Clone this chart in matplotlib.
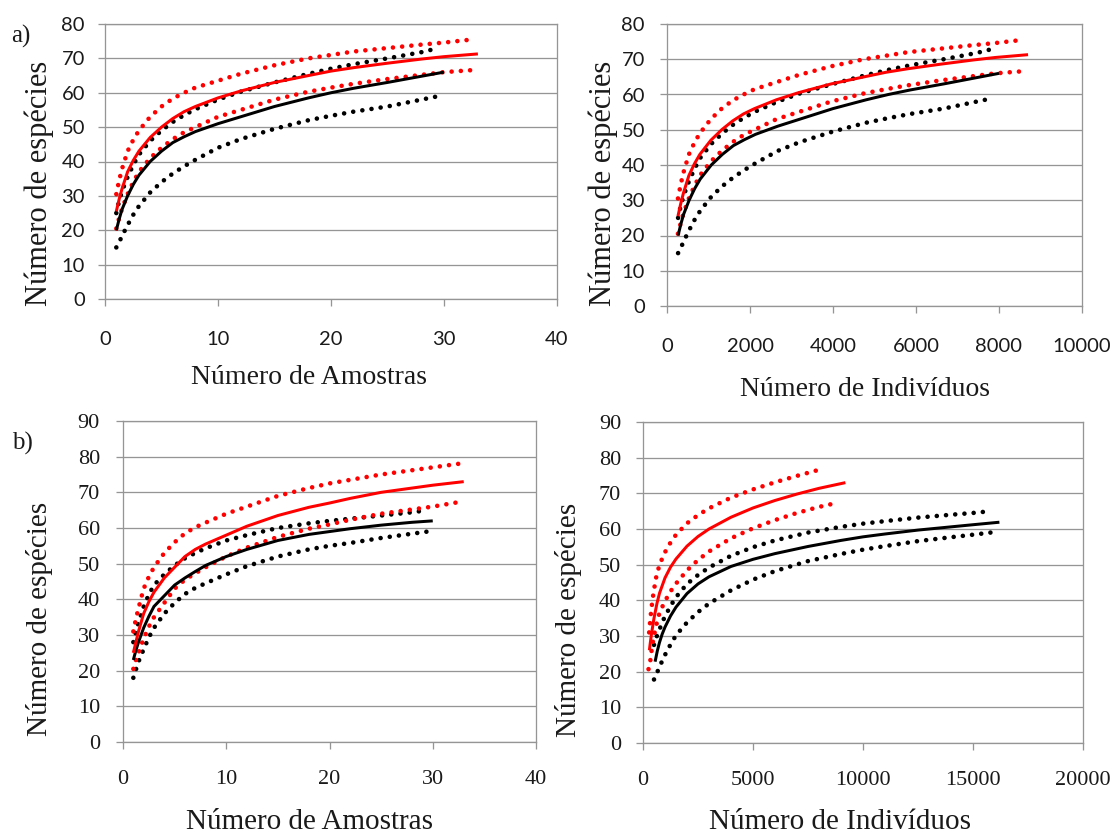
import matplotlib
matplotlib.use("Agg")
import matplotlib.pyplot as plt

W, H = 1117, 834
DPI = 100

# ---------------- data: a) samples ----------------
a_samp_black_x = [1, 1.25, 1.5, 2, 2.5, 3, 4, 5, 6, 7, 8, 10, 12, 15, 18, 20, 22, 25, 28, 30]
a_samp_black = [20, 23.2, 26, 30, 33.3, 36, 40, 43, 45.5, 47.2, 48.7, 51, 53, 56, 58.5, 60, 61.3, 63, 64.8, 66]
a_samp_black_up_x = [1, 1.25, 1.5, 2, 2.5, 3, 4, 5, 6, 7, 8, 10, 12, 15, 18, 20, 22, 25, 28, 29.5]
a_samp_black_up = [25, 28.5, 31.3, 35.5, 39, 42, 46, 49, 51.5, 53.5, 55.2, 58, 60.3, 63, 65.5, 67, 68.3, 70, 71.8, 73]
a_samp_black_lo_x = [1, 1.25, 1.5, 2, 2.5, 3, 4, 5, 6, 7, 8, 10, 12, 15, 18, 20, 22, 25, 28, 29.5]
a_samp_black_lo = [15, 16.5, 18.3, 21.5, 24.5, 27, 31, 34, 36.5, 38.6, 40.5, 44, 46.5, 49.5, 52, 53.3, 54.5, 56, 58, 59]
a_samp_red_x = [1, 1.25, 1.5, 2, 2.5, 3, 4, 5, 6, 7, 8, 10, 12, 15, 18, 20, 22, 25, 28, 30, 33]
a_samp_red = [25.5, 29, 32, 37, 40.3, 43, 47, 50, 52.5, 54.5, 56, 58.5, 60.5, 63, 65, 66.3, 67.3, 68.6, 69.8, 70.5, 71.3]
a_samp_red_up_x = [1, 1.25, 1.5, 2, 2.5, 3, 4, 5, 6, 7, 8, 10, 12, 15, 18, 20, 22, 25, 28, 30, 32.5]
a_samp_red_up = [30.5, 34.5, 37.8, 43, 46.3, 49, 53, 56, 58.3, 60, 61.5, 63.5, 65.5, 68, 70, 71, 72, 73, 74, 74.6, 75.5]
a_samp_red_lo_x = [1, 1.25, 1.5, 2, 2.5, 3, 4, 5, 6, 7, 8, 10, 12, 15, 18, 20, 22, 25, 28, 30, 33]
a_samp_red_lo = [20.5, 23.5, 26.2, 30.5, 34, 37, 41, 44, 46.5, 48.5, 50, 53, 55, 58, 60.3, 61.5, 62.6, 64, 65.2, 66, 66.7]

# ---------------- data: a) individuals ----------------
a_ind_black_x = [267, 333, 400, 533, 667, 800, 1067, 1333, 1600, 1867, 2133, 2667, 3200, 4000, 4800,
                 5333, 5867, 6667, 7467, 8000]
a_ind_black = [20, 23.2, 26, 30, 33.3, 36, 40, 43, 45.5, 47.2, 48.7, 51, 53, 56, 58.5, 60, 61.3, 63, 64.8, 66]
a_ind_black_up_x = [267, 333, 400, 533, 667, 800, 1067, 1333, 1600, 1867, 2133, 2667, 3200, 4000, 4800,
                    5333, 5867, 6667, 7467, 7870]
a_ind_black_up = [25, 28.5, 31.3, 35.5, 39, 42, 46, 49, 51.5, 53.5, 55.2, 58, 60.3, 63, 65.5, 67, 68.3, 70, 71.8, 73]
a_ind_black_lo_x = [267, 333, 400, 533, 667, 800, 1067, 1333, 1600, 1867, 2133, 2667, 3200, 4000, 4800,
                    5333, 5867, 6667, 7467, 7870]
a_ind_black_lo = [15, 16.5, 18.3, 21.5, 24.5, 27, 31, 34, 36.5, 38.6, 40.5, 44, 46.5, 49.5, 52, 53.3, 54.5, 56, 58, 59]
a_ind_red_x = [264, 330, 395, 527, 659, 791, 1055, 1318, 1582, 1845, 2109, 2636, 3164, 3955, 4745,
               5273, 5800, 6591, 7382, 7909, 8700]
a_ind_red = [25.5, 29, 32, 37, 40.3, 43, 47, 50, 52.5, 54.5, 56, 58.5, 60.5, 63, 65, 66.3, 67.3, 68.6, 69.8, 70.5, 71.3]
a_ind_red_up_x = [264, 330, 395, 527, 659, 791, 1055, 1318, 1582, 1845, 2109, 2636, 3164, 3955, 4745,
                  5273, 5800, 6591, 7382, 7909, 8570]
a_ind_red_up = [30.5, 34.5, 37.8, 43, 46.3, 49, 53, 56, 58.3, 60, 61.5, 63.5, 65.5, 68, 70, 71, 72, 73, 74, 74.6, 75.5]
a_ind_red_lo_x = [264, 330, 395, 527, 659, 791, 1055, 1318, 1582, 1845, 2109, 2636, 3164, 3955, 4745,
                  5273, 5800, 6591, 7382, 7909, 8700]
a_ind_red_lo = [20.5, 23.5, 26.2, 30.5, 34, 37, 41, 44, 46.5, 48.5, 50, 53, 55, 58, 60.3, 61.5, 62.6, 64, 65.2, 66, 66.7]

# ---------------- data: b) samples ----------------
b_samp_black_x = [1, 1.25, 1.5, 2, 2.5, 3, 4, 5, 6, 7, 8, 10, 12, 15, 18, 20, 22, 25, 28, 30]
b_samp_black = [23, 25.7, 28, 32, 35.2, 38, 41, 44, 46, 47.8, 49.5, 52, 54, 56.5, 58.2, 59, 59.8, 60.8, 61.6, 62]
b_samp_black_up_x = [1, 1.25, 1.5, 2, 2.5, 3, 4, 5, 6, 7, 8, 10, 12, 15, 18, 20, 22, 25, 28, 29.5]
b_samp_black_up = [28, 31, 33.5, 38, 41.3, 44, 47, 49.5, 51.5, 53, 54.3, 56.5, 58, 60, 61.3, 62, 62.6, 63.5, 64.4, 65]
b_samp_black_lo_x = [1, 1.25, 1.5, 2, 2.5, 3, 4, 5, 6, 7, 8, 10, 12, 15, 18, 20, 22, 25, 28, 29.5]
b_samp_black_lo = [18, 20.3, 22.5, 26, 29.3, 32, 36, 39, 41.5, 43.2, 44.5, 47, 49.3, 52, 54, 55, 55.8, 57.2, 58.4, 59]
b_samp_red_x = [1, 1.25, 1.5, 2, 2.5, 3, 4, 5, 6, 7, 8, 10, 12, 15, 18, 20, 22, 25, 28, 30, 33]
b_samp_red = [25, 28, 31, 36, 39.3, 42, 46, 49, 52, 54, 55.5, 58, 60.5, 63.5, 65.8, 67, 68.3, 70, 71.2, 72, 73]
b_samp_red_up_x = [1, 1.25, 1.5, 2, 2.5, 3, 4, 5, 6, 7, 8, 10, 12, 15, 18, 20, 22, 25, 28, 30, 32.5]
b_samp_red_up = [31, 34.5, 37.5, 43, 46.3, 49, 53, 56, 58.5, 60.2, 61.5, 64, 66, 69, 71.2, 72.5, 73.5, 75, 76.2, 77, 78]
b_samp_red_lo_x = [1, 1.25, 1.5, 2, 2.5, 3, 4, 5, 6, 7, 8, 10, 12, 15, 18, 20, 22, 25, 28, 30, 33]
b_samp_red_lo = [20.5, 23, 25, 29, 32.3, 35, 39, 43, 45.5, 47.3, 49, 52, 54.5, 57.5, 59.8, 61, 62.3, 64, 65.2, 66, 67.5]

# ---------------- data: b) individuals ----------------
b_ind_black_x = [550, 650, 750, 870, 1000, 1250, 1500, 2000, 2500, 3000, 4000, 5000, 6000, 7500, 9000,
                 10000, 11000, 12500, 14000, 15000, 16200]
b_ind_black = [22.8, 25.8, 28.2, 30.5, 32.5, 35.6, 38.1, 41.9, 44.6, 46.6, 49.5, 51.5, 53.1, 55.1, 56.8,
               57.8, 58.6, 59.7, 60.6, 61.2, 61.9]
b_ind_black_up_x = [500, 600, 750, 870, 1000, 1250, 1500, 2000, 2500, 3000, 4000, 5000, 6000, 7500, 9000,
                    10000, 11000, 12500, 14000, 15000, 15800]
b_ind_black_up = [27.5, 29.5, 31.8, 33.8, 35.5, 38.4, 40.9, 44.6, 47.1, 49.2, 52.5, 54.9, 56.8, 59, 60.6,
                  61.5, 62.2, 63.2, 64, 64.5, 65]
b_ind_black_lo_x = [500, 600, 750, 870, 1000, 1250, 1500, 2000, 2500, 3000, 4000, 5000, 6000, 7500, 9000,
                    10000, 11000, 12500, 14000, 15000, 15800]
b_ind_black_lo = [17.8, 19.2, 21.3, 23, 24.7, 27.6, 30.2, 33.8, 36.7, 39.1, 42.8, 45.8, 48.2, 51, 53,
                  54.2, 55.2, 56.6, 57.7, 58.4, 59]
b_ind_red_x = [290, 330, 380, 440, 500, 640, 750, 1000, 1250, 1500, 2000, 2500, 3000, 4000, 5000,
               6000, 7000, 8000, 9200]
b_ind_red = [26, 28, 30.3, 32.7, 35, 39.3, 42, 46.3, 49.3, 51.6, 55.2, 57.9, 60, 63.3, 65.9, 68, 69.8, 71.4, 73]
b_ind_red_up_x = [280, 330, 380, 440, 500, 600, 750, 1000, 1250, 1500, 2000, 2500, 3000, 4000, 5000,
                  6000, 7000, 8000]
b_ind_red_up = [31, 34.5, 37.5, 40.5, 43, 46.5, 50, 53.5, 56.2, 58.4, 61.6, 63.9, 65.8, 68.8, 71.1, 73.1, 74.9, 76.6]
b_ind_red_lo_x = [250, 330, 380, 440, 500, 600, 750, 1000, 1250, 1500, 2000, 2500, 3000, 4000, 5000,
                  6000, 7000, 8000, 8800]
b_ind_red_lo = [20.7, 23, 25.5, 28, 30, 33, 36.5, 39.8, 42.5, 44.7, 48.4, 51.3, 53.7, 57.4, 60.2, 62.5, 64.5, 66.2, 67.3]

panel_labels = ["a)", "b)"]
xlabel_samp = "Número de Amostras"
xlabel_ind = "Número de Indivíduos"
ylabel = "Número de espécies"

RED = "#ff0000"
BLACK = "#000000"
GRID = "#959595"
TXT = "#1a1a1a"

fig = plt.figure(figsize=(W / DPI, H / DPI), dpi=DPI)


def add_ax(l, r, t, b):
    return fig.add_axes([l / W, (H - b) / H, (r - l) / W, (b - t) / H])


def px(p):
    return p * 72.0 / DPI


def draw(ax, series, xlim, xticks, ylim, yticks, tick_font, tick_size,
         xpad_px, ypad_px, xlab, xlab_size, xlab_xy, ylab_size, ylab_xy, ax_box):
    l, r, t, b = ax_box
    for (x, y, color, dotted) in series:
        if dotted:
            ax.plot(x, y, color=color, lw=px(4.6), linestyle=(0, (0.01, 2.0)),
                    dash_capstyle="round", solid_capstyle="round", zorder=3)
        else:
            ax.plot(x, y, color=color, lw=px(3.0), solid_capstyle="butt",
                    solid_joinstyle="round", zorder=3)
    ax.set_xlim(*xlim)
    ax.set_ylim(*ylim)
    ax.set_xticks(xticks)
    ax.set_yticks(yticks)
    ax.grid(axis="y", color=GRID, lw=px(1.3))
    ax.set_axisbelow(True)
    for s in ax.spines.values():
        s.set_color(GRID)
        s.set_linewidth(px(1.3))
    ax.tick_params(axis="both", direction="out", length=px(7), width=px(1.3),
                   color=GRID, labelsize=tick_size, labelcolor=TXT)
    ax.tick_params(axis="x", pad=px(xpad_px))
    ax.tick_params(axis="y", pad=px(ypad_px))
    for lab in ax.get_xticklabels() + ax.get_yticklabels():
        lab.set_fontfamily(tick_font)
    ax.set_xlabel(xlab, fontfamily="Liberation Serif", fontsize=xlab_size, color=TXT)
    ax.set_ylabel(ylabel, fontfamily="Liberation Serif", fontsize=ylab_size, color=TXT)
    ax.xaxis.label.set_va("center")
    ax.yaxis.label.set_va("center")
    ax.xaxis.set_label_coords((xlab_xy[0] - l) / (r - l), (b - xlab_xy[1]) / (b - t))
    ax.yaxis.set_label_coords((ylab_xy[0] - l) / (r - l), (b - ylab_xy[1]) / (b - t))


# a) samples
box = (105, 557, 24, 299)
ax1 = add_ax(*box)
draw(ax1, [
    (a_samp_black_up_x, a_samp_black_up, BLACK, True),
    (a_samp_black_lo_x, a_samp_black_lo, BLACK, True),
    (a_samp_red_up_x, a_samp_red_up, RED, True),
    (a_samp_red_lo_x, a_samp_red_lo, RED, True),
    (a_samp_black_x, a_samp_black, BLACK, False),
    (a_samp_red_x, a_samp_red, RED, False),
], (0, 40), [0, 10, 20, 30, 40], (0, 80), list(range(0, 81, 10)),
    "Lato", 14.5, 25, 13, xlabel_samp, 20, (309, 377), 22, (39, 183), box)

# a) individuals
box = (667, 1082, 24, 306)
ax2 = add_ax(*box)
draw(ax2, [
    (a_ind_black_up_x, a_ind_black_up, BLACK, True),
    (a_ind_black_lo_x, a_ind_black_lo, BLACK, True),
    (a_ind_red_up_x, a_ind_red_up, RED, True),
    (a_ind_red_lo_x, a_ind_red_lo, RED, True),
    (a_ind_black_x, a_ind_black, BLACK, False),
    (a_ind_red_x, a_ind_red, RED, False),
], (0, 10000), [0, 2000, 4000, 6000, 8000, 10000], (0, 80), list(range(0, 81, 10)),
    "Lato", 14.5, 25, 15, xlabel_ind, 20, (865, 390), 22, (603, 183), box)

# b) samples
box = (123, 536, 421, 742)
ax3 = add_ax(*box)
draw(ax3, [
    (b_samp_black_up_x, b_samp_black_up, BLACK, True),
    (b_samp_black_lo_x, b_samp_black_lo, BLACK, True),
    (b_samp_red_up_x, b_samp_red_up, RED, True),
    (b_samp_red_lo_x, b_samp_red_lo, RED, True),
    (b_samp_black_x, b_samp_black, BLACK, False),
    (b_samp_red_x, b_samp_red, RED, False),
], (0, 40), [0, 10, 20, 30, 40], (0, 90), list(range(0, 91, 10)),
    "Liberation Serif", 16, 21, 16, xlabel_samp, 21, (310, 822), 21, (40, 619), box)

# b) individuals
box = (643, 1083, 422, 743)
ax4 = add_ax(*box)
draw(ax4, [
    (b_ind_black_up_x, b_ind_black_up, BLACK, True),
    (b_ind_black_lo_x, b_ind_black_lo, BLACK, True),
    (b_ind_red_up_x, b_ind_red_up, RED, True),
    (b_ind_red_lo_x, b_ind_red_lo, RED, True),
    (b_ind_black_x, b_ind_black, BLACK, False),
    (b_ind_red_x, b_ind_red, RED, False),
], (0, 20000), [0, 5000, 10000, 15000, 20000], (0, 90), list(range(0, 91, 10)),
    "Liberation Serif", 16, 21, 15, xlabel_ind, 21, (840, 822), 21, (568, 620), box)

fig.text(11 / W, 1 - 36 / H, panel_labels[0], fontfamily="Liberation Serif",
         fontsize=18, va="center", ha="left", color=TXT)
fig.text(12 / W, 1 - 443 / H, panel_labels[1], fontfamily="Liberation Serif",
         fontsize=18, va="center", ha="left", color=TXT)

fig.savefig("out.png", dpi=DPI)
